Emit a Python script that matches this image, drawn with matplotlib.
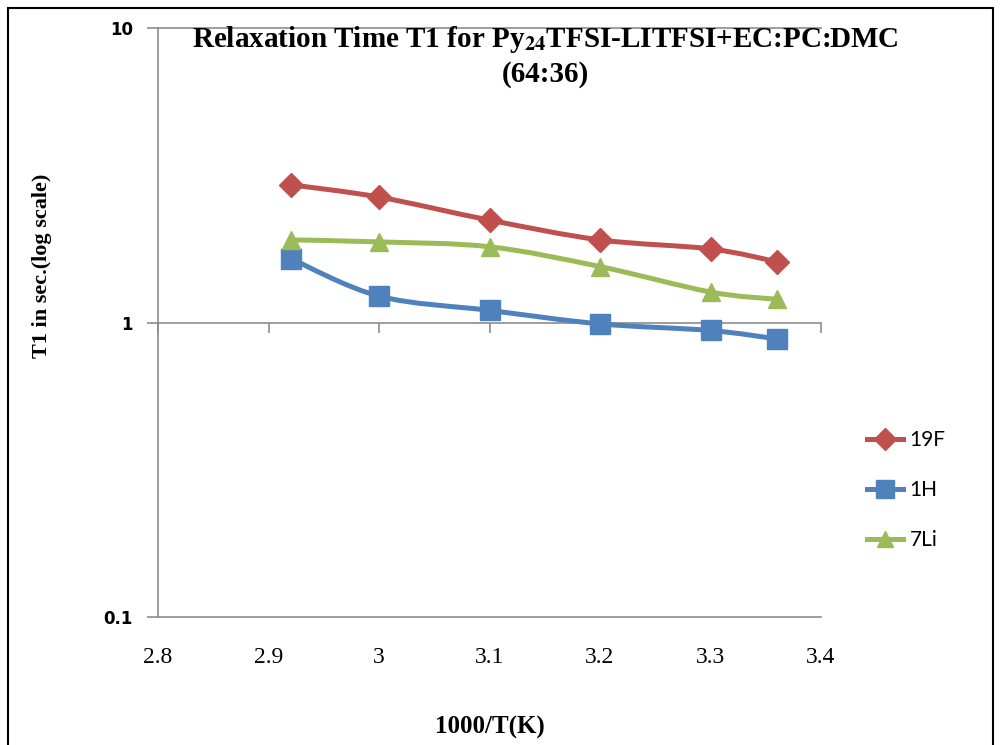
import numpy as np
import matplotlib
matplotlib.use("Agg")
import matplotlib.pyplot as plt
from matplotlib.path import Path
from matplotlib.patches import PathPatch, Rectangle
from matplotlib.lines import Line2D

plt.rcParams["font.family"] = ["Liberation Serif", "DejaVu Serif"]

# Inverse temperature values (1000/T)
inv_temp = [2.92, 3.0, 3.1, 3.2, 3.3, 3.36]

# T1 relaxation times in seconds
t1_19F = [2.94, 2.67, 2.23, 1.91, 1.78, 1.61]
t1_1H = [1.65, 1.23, 1.10, 0.99, 0.94, 0.88]
t1_7Li = [1.91, 1.88, 1.81, 1.55, 1.27, 1.20]

series_names = ["19F", "1H", "7Li"]
x_ticks = [2.8, 2.9, 3.0, 3.1, 3.2, 3.3, 3.4]
x_tick_labels = ["2.8", "2.9", "3", "3.1", "3.2", "3.3", "3.4"]
y_ticks = [0.1, 1, 10]
y_tick_labels = ["0.1", "1", "10"]

colors = ["#C0504D", "#4F81BD", "#9BBB59"]
markers = ["D", "s", "^"]
msizes = [12, 14, 13]


def smooth_path(xs, ys):
    """Cardinal-spline Bezier path through the points (log-y space)."""
    px = np.asarray(xs, float)
    py = np.log10(np.asarray(ys, float))
    n = len(px)
    verts = [(px[0], py[0])]
    codes = [Path.MOVETO]
    for i in range(n - 1):
        p0 = max(i - 1, 0)
        p3 = min(i + 2, n - 1)
        c1 = (px[i] + (px[i + 1] - px[p0]) / 6, py[i] + (py[i + 1] - py[p0]) / 6)
        c2 = (px[i + 1] - (px[p3] - px[i]) / 6, py[i + 1] - (py[p3] - py[i]) / 6)
        verts += [c1, c2, (px[i + 1], py[i + 1])]
        codes += [Path.CURVE4] * 3
    verts = [(vx, 10 ** vy) for vx, vy in verts]
    return Path(verts, codes)


fig = plt.figure(figsize=(10, 7.45), dpi=100)
ax = fig.add_axes([0.158, 0.172, 0.663, 0.790])

ax.set_yscale("log")
ax.set_xlim(2.8, 3.4)
ax.set_ylim(0.1, 10)

grid_col = "#8C8C8C"
for s in ["top", "bottom", "left"]:
    ax.spines[s].set_color(grid_col)
    ax.spines[s].set_linewidth(1.2)
ax.spines["right"].set_visible(False)

# Horizontal axis crossing at T1 = 1
sec = ax.secondary_xaxis(0.5)
sec.set_xticks(x_ticks)
sec.tick_params(axis="x", direction="out", length=7, width=1.2, color=grid_col,
                labelbottom=False, labeltop=False)
for s in ["bottom", "top"]:
    sec.spines[s].set_color(grid_col)
    sec.spines[s].set_linewidth(1.2)
sec.xaxis.set_ticks_position("bottom")
sec.set_xticklabels([])

ax.set_yticks(y_ticks)
ax.set_yticklabels(y_tick_labels)
ax.yaxis.set_minor_locator(matplotlib.ticker.NullLocator())
ax.tick_params(axis="y", direction="out", length=8, width=1.2, color=grid_col, pad=10,
               labelsize=12, labelfontfamily="DejaVu Sans")

ax.set_xticks(x_ticks)
ax.set_xticklabels(x_tick_labels)
ax.tick_params(axis="x", length=0, pad=22, labelsize=17,
               labelfontfamily="Liberation Serif")

all_series = [t1_19F, t1_1H, t1_7Li]
handles = []
for vals, col, mk, ms, name in zip(all_series, colors, markers, msizes, series_names):
    patch = PathPatch(smooth_path(inv_temp, vals), facecolor="none", edgecolor=col,
                      lw=3.6, transform=ax.transData, zorder=3, capstyle="round")
    ax.add_patch(patch)
    ax.plot(inv_temp, vals, linestyle="none", marker=mk, color=col, ms=ms,
            markeredgecolor=col, zorder=4, clip_on=False)
    handles.append(Line2D([], [], color=col, lw=3.6, marker=mk, ms=ms - 1,
                          markeredgecolor=col, label=name))

ax.set_xlabel("1000/T(K)", fontsize=18, fontweight="bold")
ax.xaxis.set_label_coords(0.5, -0.168)
ax.set_ylabel("T1 in sec.(log scale)", fontsize=16, fontweight="bold")
ax.yaxis.set_label_coords(-0.16, 0.596)

fig.text(0.545, 0.968, "Relaxation Time T1 for Py$_{\\mathbf{24}}$TFSI-LITFSI+EC:PC:DMC",
         ha="center", va="top", fontsize=21, fontweight="bold",
         math_fontfamily="stix")
fig.text(0.545, 0.918, "(64:36)", ha="center", va="top", fontsize=21,
         fontweight="bold")

leg = fig.legend(handles=handles, loc="upper left", bbox_to_anchor=(0.848, 0.448),
                 frameon=False, handlelength=1.75, handletextpad=0.3,
                 labelspacing=1.45, prop={"family": "Lato", "size": 15})

# Outer chart border
fig.add_artist(Rectangle((0.008, -0.01), 0.985, 0.999, transform=fig.transFigure,
                         fill=False, edgecolor="black", lw=1.5))

fig.canvas.draw()
for lab in ax.get_yticklabels():
    lab.set_fontweight("bold")

fig.savefig("out.png", dpi=100)
